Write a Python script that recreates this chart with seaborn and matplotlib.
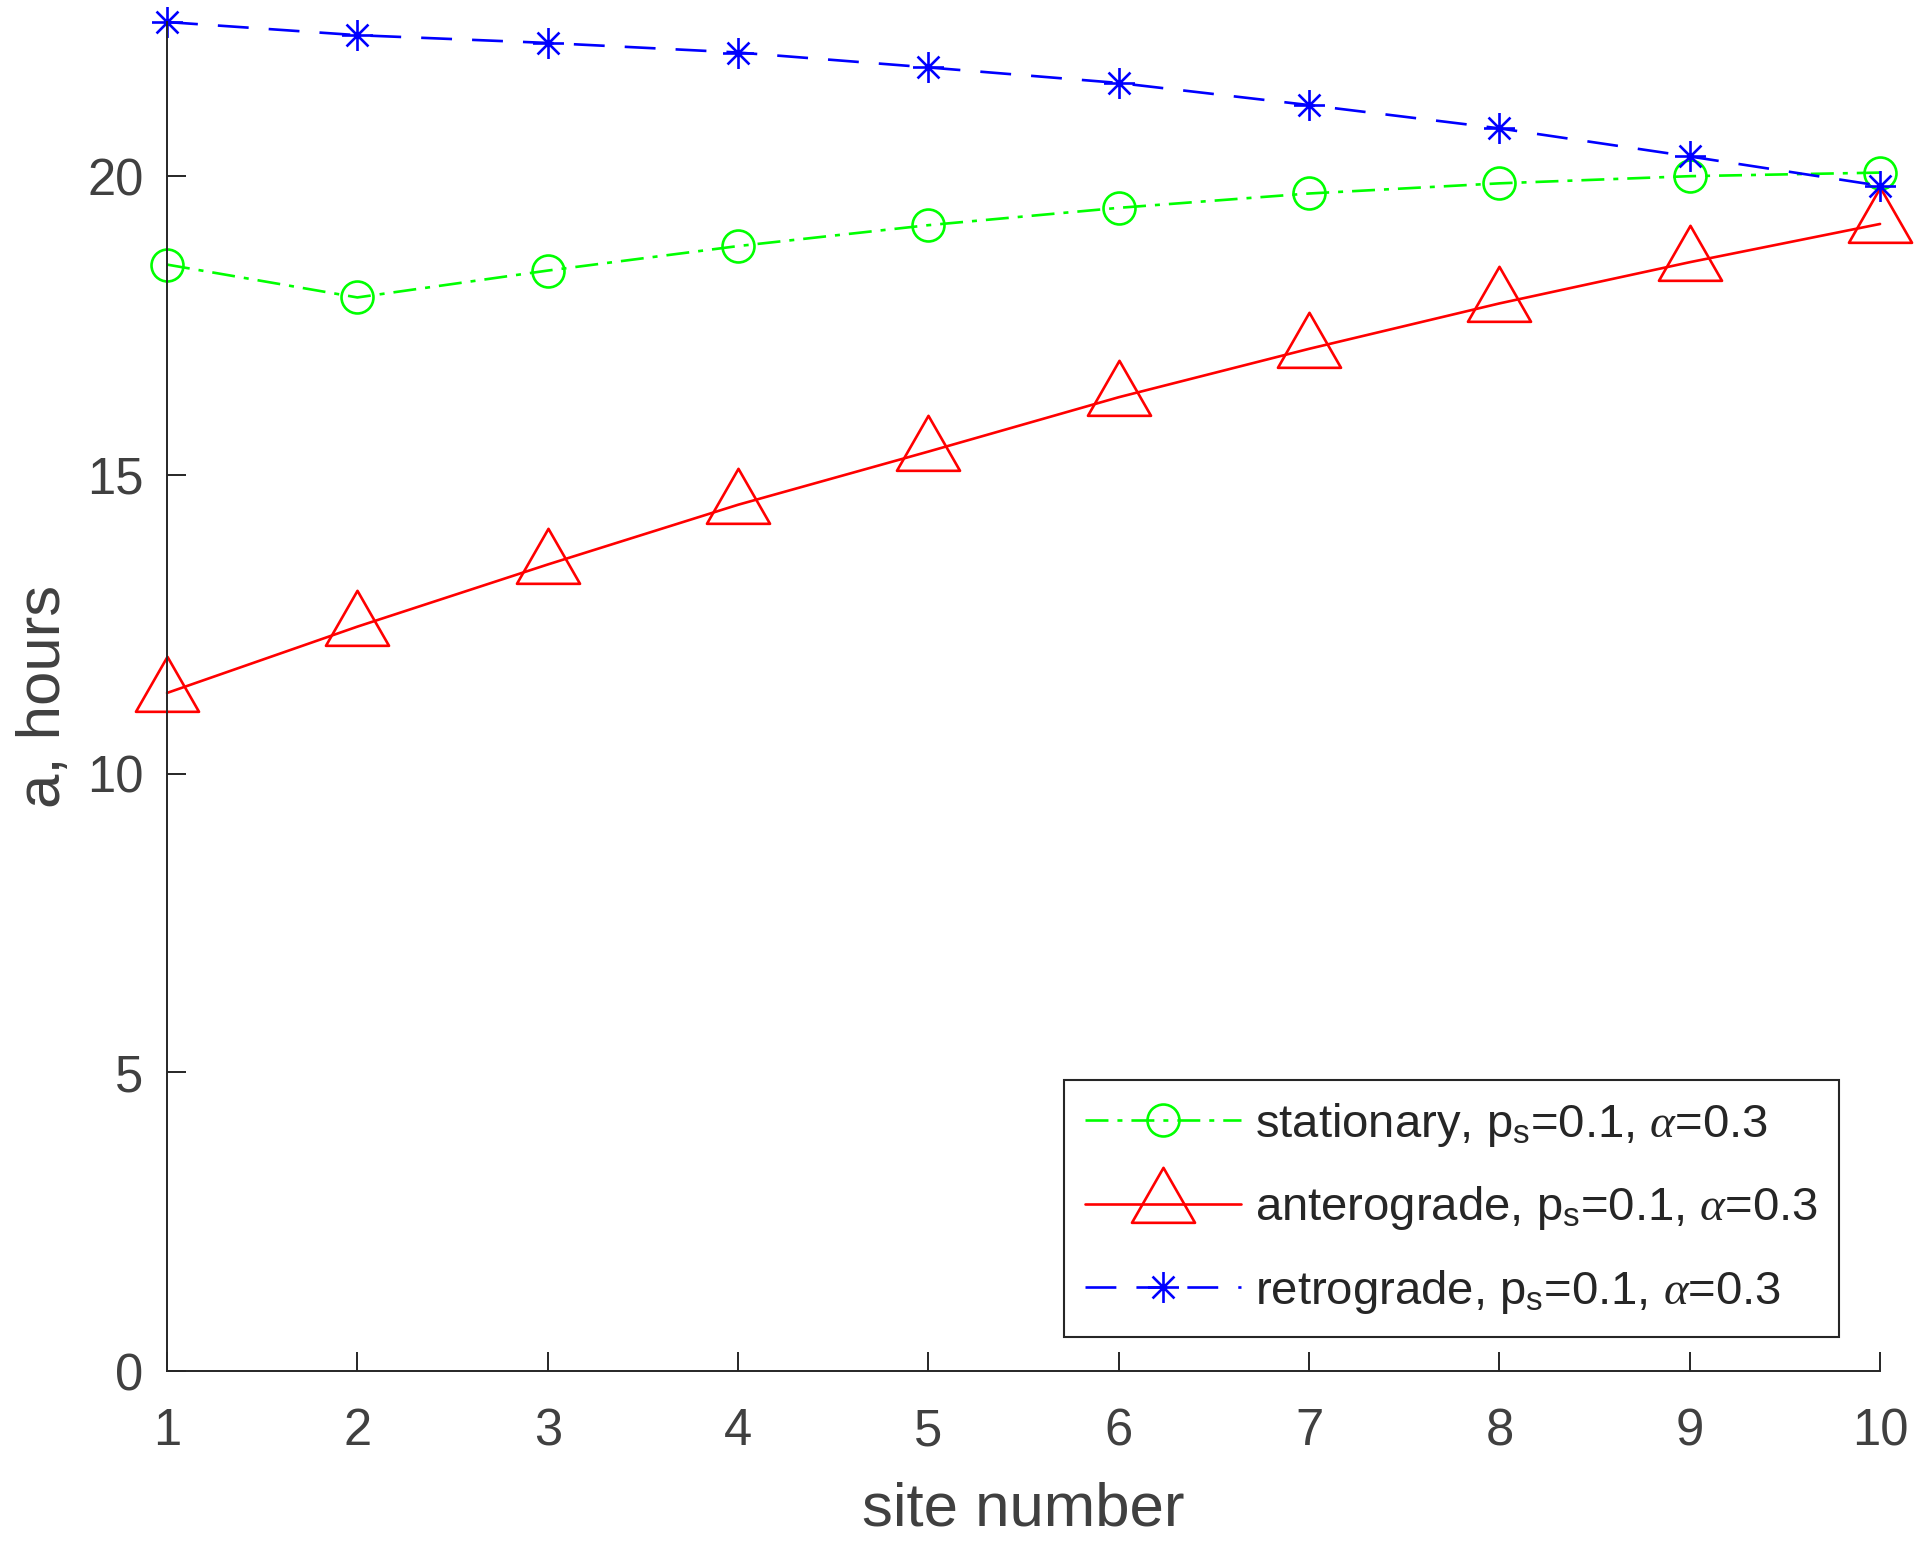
import numpy as np
import matplotlib
matplotlib.use('Agg')
import matplotlib.pyplot as plt
from matplotlib.path import Path
import seaborn as sns

# values
sites = [1, 2, 3, 4, 5, 6, 7, 8, 9, 10]
stationary = [18.52, 17.97, 18.42, 18.83, 19.18, 19.47, 19.71, 19.88, 20.00, 20.06]
anterograde = [11.35, 12.46, 13.50, 14.50, 15.39, 16.30, 17.11, 17.87, 18.56, 19.20]
retrograde = [22.58, 22.36, 22.23, 22.07, 21.82, 21.56, 21.19, 20.80, 20.33, 19.84]
labels = [r'stationary, p$_\mathrm{s}$=0.1, $\alpha$=0.3',
          r'anterograde, p$_\mathrm{s}$=0.1, $\alpha$=0.3',
          r'retrograde, p$_\mathrm{s}$=0.1, $\alpha$=0.3']
yticks = [0, 5, 10, 15, 20]

sns.set_theme(style='ticks')
plt.rcParams['font.family'] = ['Liberation Sans', 'DejaVu Sans']
plt.rcParams['mathtext.fontset'] = 'custom'
plt.rcParams['mathtext.rm'] = 'Liberation Sans'
plt.rcParams['mathtext.it'] = 'Liberation Serif:italic'
plt.rcParams['mathtext.bf'] = 'Liberation Sans:bold'

# matlab-like markers: 8-arm asterisk, triangle with data point at 2/3 height
star = Path([(-1, 0), (1, 0), (0, -1), (0, 1),
             (-.707, -.707), (.707, .707), (-.707, .707), (.707, -.707)],
            [Path.MOVETO, Path.LINETO] * 4)
tri = Path([(0, 2), (-1.72, -1), (1.72, -1), (0, 2)],
           [Path.MOVETO, Path.LINETO, Path.LINETO, Path.CLOSEPOLY])

fig = plt.figure(figsize=(19.2, 15.41), dpi=100)
ax = fig.add_axes([0.087, 0.1103, 0.8922, 0.8754])

lw = 1.9
sns.lineplot(x=sites, y=stationary, ax=ax, color='#00ff00', linewidth=lw,
             linestyle=(0, (8.7, 3.4, 1.9, 3.4)), marker='o', markersize=23,
             markerfacecolor='none', markeredgecolor='#00ff00', markeredgewidth=lw,
             label=labels[0], clip_on=False, errorbar=None)
sns.lineplot(x=sites, y=anterograde, ax=ax, color='#ff0000', linewidth=lw,
             linestyle='-', marker=tri, markersize=52.8,
             markerfacecolor='none', markeredgecolor='#ff0000', markeredgewidth=lw,
             label=labels[1], clip_on=False, errorbar=None)
sns.lineplot(x=sites, y=retrograde, ax=ax, color='#0000ff', linewidth=lw,
             linestyle=(0, (11.7, 7.6)), marker=star, markersize=22.3,
             markerfacecolor='none', markeredgecolor='#0000ff', markeredgewidth=lw,
             label=labels[2], clip_on=False, errorbar=None)

ax.set_xlim(1, 10)
ax.set_ylim(0, max(retrograde))
ax.set_xticks(sites)
ax.set_yticks(yticks)

for side in ['top', 'right']:
    ax.spines[side].set_visible(False)
for side in ['left', 'bottom']:
    ax.spines[side].set_linewidth(1.4)
    ax.spines[side].set_color('#262626')

ax.tick_params(direction='in', length=13.7, width=1.4, color='#262626',
               labelcolor='#404040', labelsize=36.5, top=False, right=False)
ax.tick_params(axis='x', pad=26)
ax.tick_params(axis='y', pad=17)

ax.set_xlabel('site number', fontsize=44.5, color='#404040', labelpad=18)
ax.set_ylabel('a, hours', fontsize=44.5, color='#404040', labelpad=10)

leg = ax.legend(loc='lower right', bbox_to_anchor=(0.976, 0.0252), fontsize=34,
                frameon=True, fancybox=False, edgecolor='#262626', framealpha=1,
                handlelength=3.3, handletextpad=0.3, labelspacing=0.75,
                borderpad=0.45, borderaxespad=0)
leg.get_frame().set_linewidth(1.5)
for t in leg.get_texts():
    t.set_color('#262626')

fig.savefig('out.png', dpi=100)
